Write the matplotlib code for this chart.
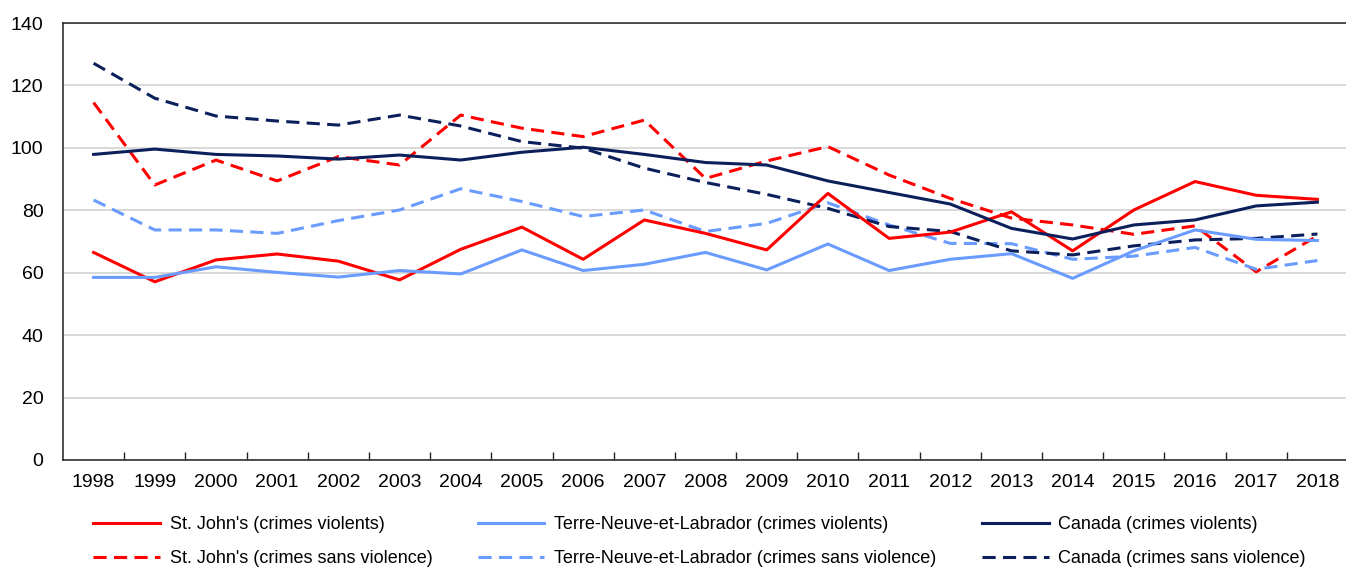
import numpy as np
import matplotlib
matplotlib.use("Agg")
import matplotlib.pyplot as plt

plt.rcParams["font.family"] = ["Liberation Sans", "DejaVu Sans"]

years = list(range(1998, 2019))

stjohns_violent = [66.5, 57.1, 64.1, 66.0, 63.7, 57.7, 67.5, 74.6, 64.3, 76.9, 72.6,
                   67.3, 85.4, 71.0, 73.0, 79.5, 67.0, 80.1, 89.2, 84.8, 83.5]
nl_violent = [58.5, 58.5, 61.9, 60.1, 58.6, 60.7, 59.6, 67.3, 60.7, 62.7, 66.5,
              60.9, 69.2, 60.7, 64.3, 66.1, 58.2, 67.0, 73.7, 70.7, 70.3]
canada_violent = [97.9, 99.6, 97.9, 97.4, 96.4, 97.7, 96.1, 98.6, 100.2, 97.9, 95.3,
                  94.5, 89.4, 85.7, 82.0, 74.2, 70.8, 75.3, 76.9, 81.4, 82.6]
stjohns_nonviolent = [114.5, 88.1, 96.1, 89.4, 97.2, 94.5, 110.5, 106.3, 103.6, 108.9, 90.2,
                      95.8, 100.4, 91.3, 83.8, 77.5, 75.3, 72.3, 75.0, 60.3, 71.8]
nl_nonviolent = [83.3, 73.7, 73.7, 72.6, 76.7, 80.1, 86.9, 82.8, 78.0, 80.1, 73.2,
                 75.8, 82.4, 75.3, 69.4, 69.3, 64.3, 65.3, 68.1, 61.1, 63.9]
canada_nonviolent = [127.1, 115.9, 110.2, 108.6, 107.3, 110.5, 107.0, 102.0, 99.9, 93.5, 88.9,
                     85.1, 80.6, 74.8, 73.2, 67.0, 65.7, 68.6, 70.5, 71.0, 72.4]

RED = "#FF0000"
LBLUE = "#6A9BFF"
NAVY = "#0B1F5B"

fig = plt.figure(figsize=(13.46, 5.68), dpi=100)
ax = fig.add_axes([63 / 1346, 1 - 460 / 568, 1285 / 1346, 437 / 568])

x = np.arange(len(years))
dash = (4.3, 2.4)
lw = 2.2
series = [
    (stjohns_violent, RED, "-", "St. John's (crimes violents)"),
    (stjohns_nonviolent, RED, "--", "St. John's (crimes sans violence)"),
    (nl_violent, LBLUE, "-", "Terre-Neuve-et-Labrador (crimes violents)"),
    (nl_nonviolent, LBLUE, "--", "Terre-Neuve-et-Labrador (crimes sans violence)"),
    (canada_violent, NAVY, "-", "Canada (crimes violents)"),
    (canada_nonviolent, NAVY, "--", "Canada (crimes sans violence)"),
]
# solid lines drawn over the dashed ones
handles = []
labels = []
for vals, col, ls, lab in series:
    if ls == "--":
        h, = ax.plot(x, vals, color=col, lw=lw, dashes=dash, zorder=3)
    else:
        h, = ax.plot(x, vals, color=col, lw=lw, zorder=4)
    handles.append(h)
    labels.append(lab)

ax.set_xlim(-0.5, len(years) - 0.5)
ax.set_ylim(0, 140)
ax.set_yticks(range(0, 141, 20))
ax.set_xticks(x)
ax.set_xticklabels([str(y) for y in years])
ax.set_xticks(np.arange(0.5, len(years) - 0.5, 1), minor=True)
ax.tick_params(axis="x", which="major", length=0, pad=10, labelsize=14, colors="black")
ax.tick_params(axis="x", which="minor", direction="in", length=6, width=1, color="#222222")
ax.tick_params(axis="y", length=0, pad=14, labelsize=14)
ax.grid(axis="y", color="#D9D9D9", lw=1.4, zorder=0)
ax.set_axisbelow(True)
for s in ["left", "bottom", "top"]:
    ax.spines[s].set_color("#222222")
    ax.spines[s].set_linewidth(1.1)
ax.spines["right"].set_visible(False)

fig.legend(handles, labels, ncol=3,
           loc="upper left", bbox_to_anchor=(93 / 1346, 1 - 516 / 568),
           frameon=False, borderpad=0, borderaxespad=0,
           handlelength=3.7, handletextpad=0.55, columnspacing=2.5,
           labelspacing=0.95, fontsize=13)

fig.savefig("out.png", dpi=100)
